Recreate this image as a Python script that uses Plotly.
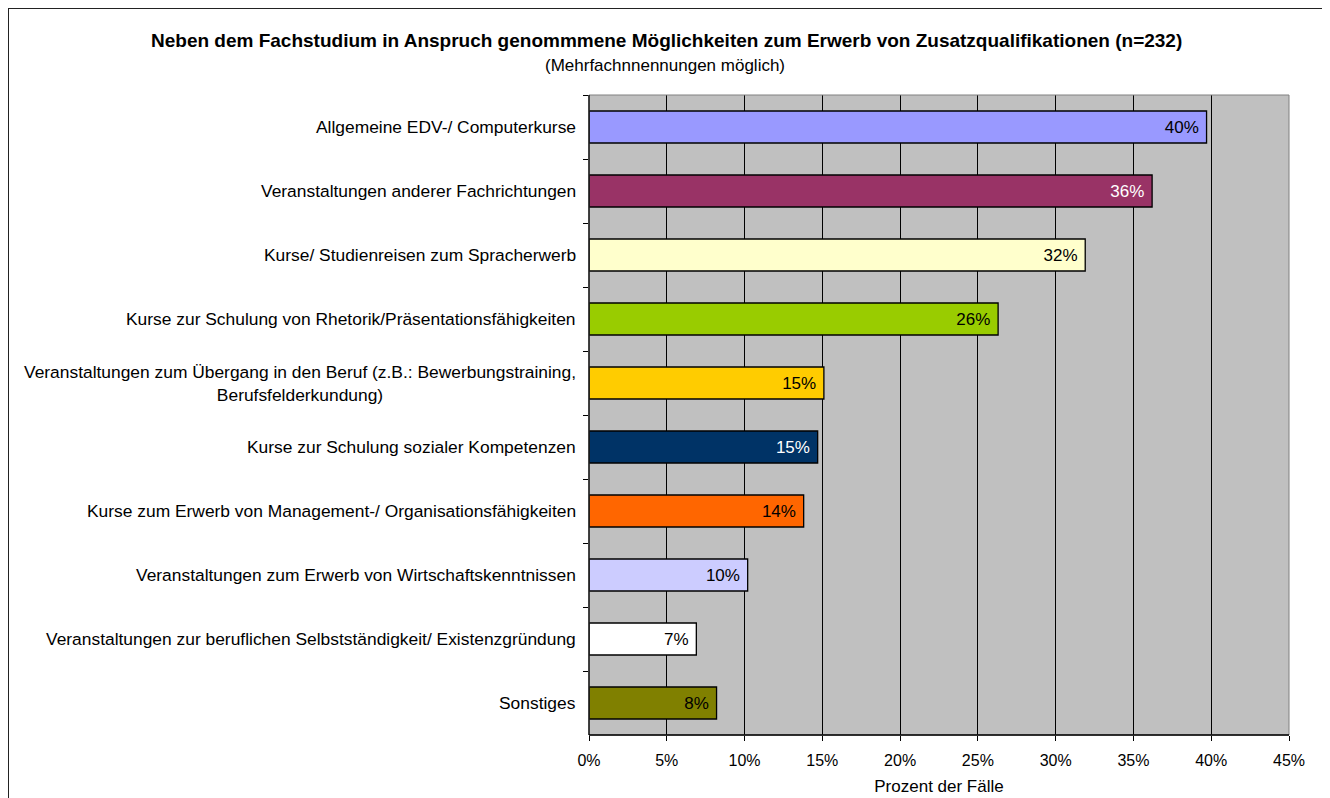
import plotly.graph_objects as go

categories = [
    "Allgemeine EDV-/ Computerkurse",
    "Veranstaltungen anderer Fachrichtungen",
    "Kurse/ Studienreisen zum Spracherwerb",
    "Kurse zur Schulung von Rhetorik/Präsentationsfähigkeiten",
    "Veranstaltungen zum Übergang in den Beruf (z.B.: Bewerbungstraining,<br>Berufsfelderkundung)",
    "Kurse zur Schulung sozialer Kompetenzen",
    "Kurse zum Erwerb von Management-/ Organisationsfähigkeiten",
    "Veranstaltungen zum Erwerb von Wirtschaftskenntnissen",
    "Veranstaltungen zur beruflichen Selbstständigkeit/ Existenzgründung",
    "Sonstiges",
]
values = [39.7, 36.2, 31.9, 26.3, 15.1, 14.7, 13.8, 10.2, 6.9, 8.2]
bar_colors = ["#9999FF", "#993366", "#FFFFCC", "#99CC00", "#FFCC00",
              "#003366", "#FF6600", "#CCCCFF", "#FFFFFF", "#808000"]
label_colors = ["black", "white", "black", "black", "black",
                "white", "black", "black", "black", "black"]
x_ticks = [0, 5, 10, 15, 20, 25, 30, 35, 40, 45]
x_ticklabels = [f"{t}%" for t in x_ticks]

FONT = "Liberation Sans, Arial, sans-serif"

W, H = 1330, 798
OFF = 8  # default page margin of the browser body
# plot area in page pixel coordinates
L, R, T, B = 589, 1289, 95, 735
pw, ph = R - L, B - T

def px(x):
    return (x - L) / pw

def py(y):
    return (B - y) / ph

fig = go.Figure()
fig.add_trace(go.Bar(
    y=categories, x=values, orientation="h",
    marker=dict(color=bar_colors, line=dict(color="black", width=1.3)),
    texttemplate="%{x:.0f}%\u00a0", textposition="inside", insidetextanchor="end",
    textangle=0, constraintext="none",
    textfont=dict(family=FONT, size=17, color=label_colors),
    width=0.5, hoverinfo="skip",
))

annotations = []
for c in categories:
    annotations.append(dict(
        x=px(578), xref="paper", y=c, yref="y", text=c, showarrow=False,
        xanchor="right", align="center",
        font=dict(family=FONT, size=17.4, color="black"),
    ))
annotations.append(dict(
    x=px(666.5), y=py(40), xref="paper", yref="paper", showarrow=False,
    text="<b>Neben dem Fachstudium in Anspruch genommmene Möglichkeiten zum Erwerb von Zusatzqualifikationen (n=232)</b>",
    font=dict(family=FONT, size=19, color="black"), xanchor="center", yanchor="middle",
))
annotations.append(dict(
    x=px(664.5), y=py(65), xref="paper", yref="paper", showarrow=False,
    text="(Mehrfachnnennungen möglich)",
    font=dict(family=FONT, size=17, color="black"), xanchor="center", yanchor="middle",
))

shapes = [
    dict(type="rect", xref="paper", yref="paper", x0=0, x1=1, y0=0, y1=1,
         line=dict(color="#808080", width=1), fillcolor="rgba(0,0,0,0)", layer="above"),
    dict(type="line", xref="paper", yref="paper", x0=0, x1=0, y0=0, y1=1,
         line=dict(color="black", width=1.3), layer="above"),
    dict(type="line", xref="paper", yref="paper", x0=0, x1=1, y0=0, y1=0,
         line=dict(color="black", width=1.3), layer="above"),
    dict(type="rect", xref="paper", yref="paper", x0=px(OFF), x1=px(1324), y0=py(830), y1=py(OFF),
         line=dict(color="#222222", width=2), fillcolor="rgba(0,0,0,0)", layer="above"),
]

fig.update_layout(
    width=W, height=H,
    margin=dict(l=L - OFF, r=W - (R - OFF), t=T - OFF, b=H - (B - OFF), pad=0),
    paper_bgcolor="white", plot_bgcolor="#C0C0C0",
    showlegend=False, bargap=0.5,
    font=dict(family=FONT, size=16, color="black"),
    annotations=annotations, shapes=shapes,
    xaxis=dict(
        range=[0, 45], tickvals=x_ticks, ticktext=x_ticklabels,
        showgrid=True, gridcolor="black", gridwidth=1,
        ticks="outside", ticklen=5, tickcolor="black", tickwidth=1,
        showline=False, zeroline=False, ticklabelstandoff=6,
        tickfont=dict(family=FONT, size=16),
        title=dict(text="Prozent der Fälle", font=dict(family=FONT, size=17), standoff=11),
        fixedrange=True,
    ),
    yaxis=dict(
        autorange="reversed", showticklabels=False,
        ticks="outside", ticklen=5, tickcolor="black", tickson="boundaries",
        showgrid=False, showline=False, zeroline=False, fixedrange=True,
    ),
)

fig.write_html("out.html")
